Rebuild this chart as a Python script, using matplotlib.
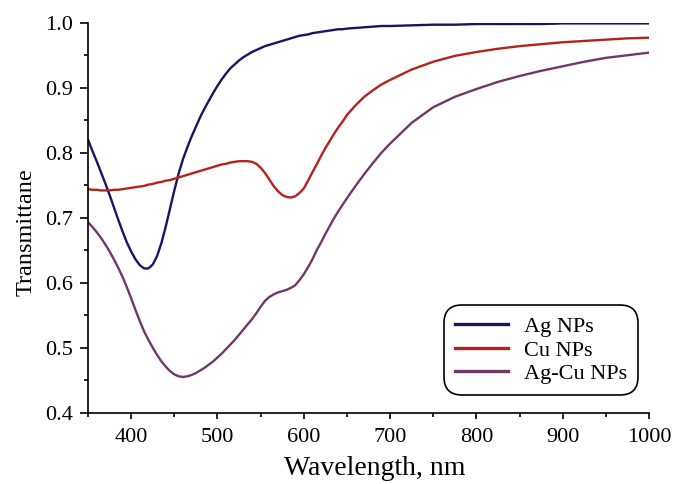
import matplotlib.pyplot as plt
from matplotlib.ticker import MultipleLocator

# wavelength grid, nm (5 nm steps through the resonance region)
wl = list(range(350, 650, 5)) + [650, 660, 670, 680, 690, 700] + list(range(725, 1001, 25))

ag = [0.820, 0.803, 0.787, 0.770, 0.753, 0.735, 0.716, 0.697, 0.679, 0.662,
      0.648, 0.636, 0.627, 0.622, 0.622, 0.628, 0.641, 0.661, 0.686, 0.714,
      0.742, 0.768, 0.790, 0.808, 0.825, 0.840, 0.855, 0.868, 0.880, 0.892,
      0.903, 0.913, 0.922, 0.930, 0.936, 0.942, 0.947, 0.951, 0.955, 0.958,
      0.961, 0.964, 0.966, 0.968, 0.970, 0.972, 0.974, 0.976, 0.978, 0.980,
      0.981, 0.982, 0.984, 0.985, 0.986, 0.987, 0.988, 0.989, 0.990, 0.990,
      0.991, 0.992, 0.993, 0.994, 0.995, 0.995,
      0.996, 0.997, 0.997, 0.998, 0.998, 0.998, 0.998, 0.999, 0.999, 0.999, 0.999, 0.999]

cu = [0.744, 0.743, 0.743, 0.742, 0.742, 0.742, 0.743, 0.743, 0.744, 0.745,
      0.746, 0.747, 0.748, 0.749, 0.751, 0.752, 0.754, 0.755, 0.757, 0.758,
      0.760, 0.762, 0.764, 0.766, 0.768, 0.770, 0.772, 0.774, 0.776, 0.778,
      0.780, 0.782, 0.783, 0.785, 0.786, 0.787, 0.787, 0.787, 0.786, 0.783,
      0.777, 0.769, 0.759, 0.749, 0.741, 0.735, 0.732, 0.731, 0.733, 0.738,
      0.745, 0.757, 0.770, 0.782, 0.795, 0.807, 0.818, 0.829, 0.839, 0.848,
      0.858, 0.873, 0.886, 0.896, 0.905, 0.912,
      0.928, 0.940, 0.949, 0.955, 0.960, 0.964, 0.967, 0.970, 0.972, 0.974, 0.976, 0.977]

agcu = [0.693, 0.686, 0.678, 0.669, 0.659, 0.648, 0.636, 0.623, 0.609, 0.593,
        0.576, 0.558, 0.541, 0.525, 0.512, 0.500, 0.489, 0.479, 0.471, 0.464,
        0.459, 0.456, 0.455, 0.456, 0.458, 0.461, 0.465, 0.469, 0.474, 0.479,
        0.485, 0.491, 0.498, 0.505, 0.512, 0.520, 0.528, 0.536, 0.544, 0.553,
        0.563, 0.572, 0.578, 0.582, 0.585, 0.587, 0.589, 0.592, 0.596, 0.604,
        0.613, 0.624, 0.636, 0.650, 0.662, 0.675, 0.687, 0.699, 0.710, 0.720,
        0.730, 0.749, 0.767, 0.784, 0.800, 0.814,
        0.846, 0.870, 0.886, 0.898, 0.909, 0.918, 0.926, 0.933, 0.940, 0.946, 0.950, 0.954]

labels = ["Ag NPs", "Cu NPs", "Ag-Cu NPs"]
colors = ["#1b1462", "#b3221d", "#703868"]

plt.rcParams['font.family'] = ['Liberation Serif', 'DejaVu Serif']

fig = plt.figure(figsize=(6.73, 4.84), dpi=100)
ax = fig.add_axes([0.1308, 0.1473, 0.8335, 0.8057])

for y, lab, c in zip([ag, cu, agcu], labels, colors):
    ax.plot(wl, y, color=c, lw=1.7, label=lab, solid_joinstyle='round')

ax.set_xlim(350, 1000)
ax.set_ylim(0.4, 1.0)
ax.xaxis.set_major_locator(MultipleLocator(100))
ax.xaxis.set_minor_locator(MultipleLocator(50))
ax.yaxis.set_major_locator(MultipleLocator(0.1))
ax.yaxis.set_minor_locator(MultipleLocator(0.05))
ax.yaxis.set_major_formatter(lambda v, p: f"{v:.1f}")

for s in ['top', 'right']:
    ax.spines[s].set_visible(False)
for s in ['left', 'bottom']:
    ax.spines[s].set_linewidth(1.2)

ax.tick_params(axis='both', which='both', direction='out', width=1.2,
               labelsize=16, colors='black')
ax.tick_params(axis='y', which='major', length=6, pad=5)
ax.tick_params(axis='y', which='minor', length=3)
ax.tick_params(axis='x', which='major', length=4, pad=7)
ax.tick_params(axis='x', which='minor', length=3)

ax.set_xlabel("Wavelength, nm", fontsize=20)
ax.xaxis.set_label_coords(0.512, -0.11)
ax.set_ylabel("Transmittane", fontsize=17.5)
ax.yaxis.set_label_coords(-0.092, 0.463)

leg = ax.legend(loc='lower right', bbox_to_anchor=(0.980, 0.045), fontsize=16,
                frameon=True, fancybox=True, handlelength=2.4, borderpad=0.5,
                labelspacing=0.13, handletextpad=0.68, borderaxespad=0)
fr = leg.get_frame()
fr.set_edgecolor('black')
fr.set_linewidth(1.2)
fr.set_alpha(1)
fr.set_boxstyle('round', pad=0, rounding_size=0.8)
for line in leg.get_lines():
    line.set_linewidth(2.4)

fig.savefig("out.png", dpi=100)
